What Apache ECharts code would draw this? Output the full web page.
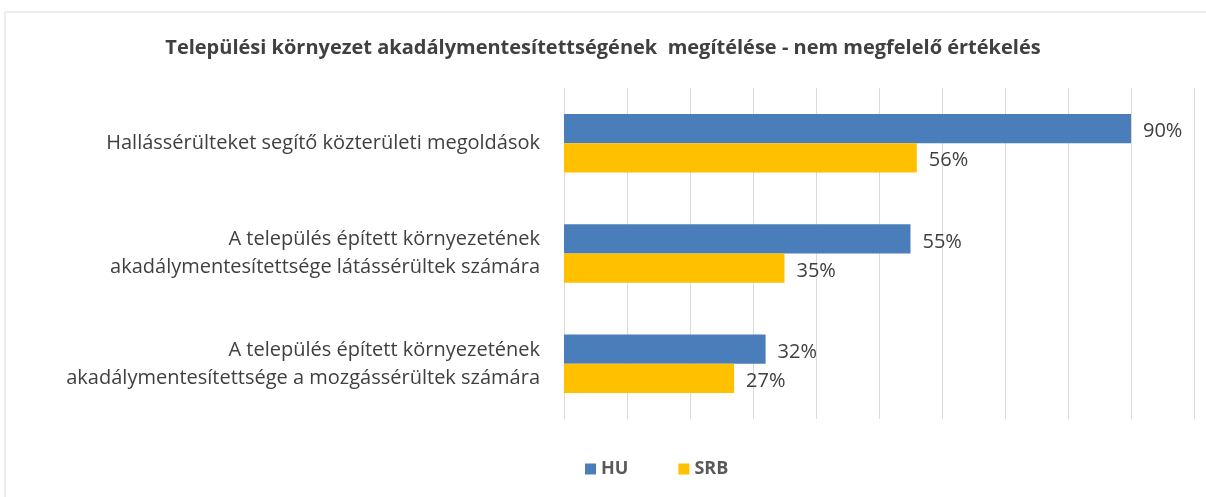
<!DOCTYPE html>
<html><head><meta charset="utf-8">
<script src="https://cdn.jsdelivr.net/npm/echarts@6/dist/echarts.min.js"></script>
<style>html,body{margin:0;padding:0;background:#fff}#c{width:1206px;height:497px}</style>
</head><body><div id="c"></div>
<script>
const categories = [
  "Hallássérülteket segítő közterületi megoldások",
  "A település épített környezetének\nakadálymentesítettsége látássérültek számára",
  "A település épített környezetének\nakadálymentesítettsége a mozgássérültek számára"
];
const huValues = [90, 55, 32];
const srbValues = [56, 35, 27];
const seriesNames = ["HU", "SRB"];
const titleText = "Települési környezet akadálymentesítettségének  megítélése - nem megfelelő értékelés";

const chart = echarts.init(document.getElementById('c'));
const labelStyle = {show: true, position: 'right', distance: 12, formatter: '{c}%', color: '#404040', fontSize: 20, fontFamily: 'Open Sans', offset: [0, 3]};
chart.setOption({
  animation: false,
  graphic: [{type: 'rect', shape: {x: 5, y: 12, width: 1250, height: 520}, style: {fill: 'none', stroke: '#d9d9d9', lineWidth: 1}}],
  title: {text: titleText, left: 'center', top: 33, textStyle: {fontFamily: 'Open Sans', fontWeight: 'bold', fontSize: 20, color: '#404040'}},
  legend: {data: seriesNames, left: 580, top: 455, itemWidth: 11, itemHeight: 11, itemGap: 50, icon: 'rect',
    textStyle: {fontFamily: 'Open Sans', fontWeight: 'bold', fontSize: 18, color: '#595959'}},
  grid: {left: 564, right: 12, top: 88, bottom: 78, containLabel: false},
  xAxis: {type: 'value', min: 0, max: 100, interval: 10, axisLabel: {show: false}, axisLine: {show: false}, axisTick: {show: false},
    splitLine: {show: true, lineStyle: {color: '#d9d9d9', width: 1}}},
  yAxis: {type: 'category', data: categories, inverse: true, axisLine: {show: false}, axisTick: {show: false},
    axisLabel: {margin: 24, fontSize: 20, lineHeight: 28, color: '#404040', fontFamily: 'Open Sans', align: 'right'}},
  series: [
    {name: 'HU', type: 'bar', data: huValues, itemStyle: {color: '#4a7ebb'}, barGap: '0%', barCategoryGap: '47%', label: labelStyle},
    {name: 'SRB', type: 'bar', data: srbValues, itemStyle: {color: '#ffc000'}, barGap: '0%', barCategoryGap: '47%', label: labelStyle}
  ]
});
</script></body></html>
